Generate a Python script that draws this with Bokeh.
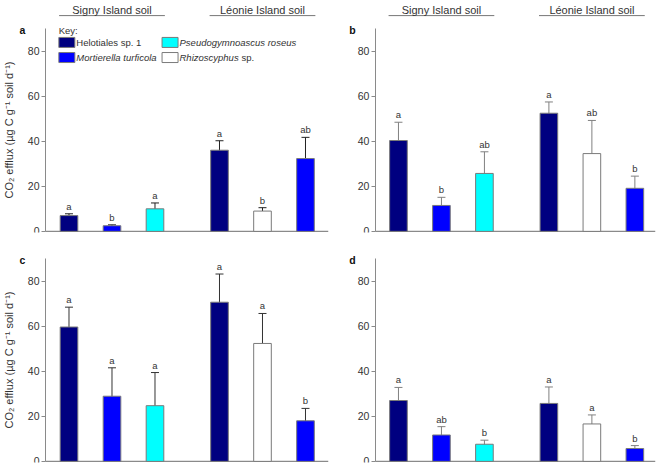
from bokeh.plotting import figure
from bokeh.models import ColumnDataSource, Whisker, TeeHead, Range1d
from bokeh.layouts import column, row
from bokeh.core.properties import value
from bokeh.embed import file_html
from bokeh.resources import INLINE

# ---------------- data ----------------
soils = ["Signy Island soil", "Léonie Island soil"]
species = ["Helotiales sp. 1", "Mortierella turficola", "Pseudogymnoascus roseus",
           "Helotiales sp. 1", "Rhizoscyphus sp.", "Mortierella turficola"]
soil_of_bar = [0, 0, 0, 1, 1, 1]
slot_in_group = [0, 1, 2, 0, 1, 2]

means_a = [7.0, 2.5, 10.0, 36.0, 9.0, 32.3]
err_a = [0.8, 0.4, 2.6, 4.2, 1.5, 9.4]
letters_a = ["a", "b", "a", "a", "b", "ab"]

means_b = [40.3, 11.5, 25.7, 52.4, 34.5, 19.1]
err_b = [8.1, 3.6, 9.6, 5.0, 14.7, 5.4]
letters_b = ["a", "b", "ab", "a", "ab", "b"]

means_c = [59.6, 28.9, 24.7, 70.6, 52.3, 18.0]
err_c = [8.8, 12.6, 14.7, 12.5, 13.3, 5.5]
letters_c = ["a", "a", "a", "a", "a", "b"]

means_d = [27.0, 11.7, 7.6, 25.7, 16.6, 5.7]
err_d = [5.8, 3.7, 1.8, 7.3, 4.0, 1.3]
letters_d = ["a", "ab", "b", "a", "a", "b"]

y_ticks = [0, 20, 40, 60, 80]
y_max = 90
y_label = "CO\u2082 efflux (\u00b5g C g\u207b\u00b9 soil d\u207b\u00b9)"

# ---------------- styles ----------------
colors = {"Helotiales sp. 1": "#000080", "Mortierella turficola": "#0000FF",
          "Pseudogymnoascus roseus": "#00FFFF", "Rhizoscyphus sp.": "#FFFFFF"}
FONT = value("Liberation Sans")
AXIS_C = "#8a8a8a"
TXT_C = "#333333"
GROUP_GAP = 3.5
positions = [s * GROUP_GAP + k for s, k in zip(soil_of_bar, slot_in_group)]


def make_panel(tag, means, errs, letters, left, top, err_color):
    height = 237 if top else 229
    x0, x1, axis_x = (-1.593, 6.035, -0.5465) if left else (-1.581, 5.98, -0.535)
    p = figure(width=330, height=height, output_backend="svg", toolbar_location=None,
               x_axis_location=None, y_axis_location="left",
               min_border_left=0, min_border_right=2 if left else 5,
               min_border_top=0, min_border_bottom=5 if top else 4)
    p.x_range = Range1d(x0, x1)
    p.y_range = Range1d(-0.5, 102.4 if top else 99.3)
    p.outline_line_color = None
    p.xgrid.visible = False
    p.ygrid.visible = False
    p.background_fill_color = "white"
    p.border_fill_color = "white"

    ax = p.yaxis[0]
    ax.fixed_location = axis_x
    ax.ticker = y_ticks
    ax.bounds = (0, y_max)
    ax.axis_line_color = AXIS_C
    ax.major_tick_line_color = AXIS_C
    ax.major_tick_out = 4
    ax.major_tick_in = 0
    ax.minor_tick_line_color = None
    ax.major_label_text_font = "Liberation Sans"
    ax.major_label_text_font_size = "10.5px"
    ax.major_label_text_color = TXT_C
    ax.major_label_standoff = 2
    if left:
        ax.axis_label = y_label
        ax.axis_label_text_font = "Liberation Sans"
        ax.axis_label_text_font_size = "11px"
        ax.axis_label_text_font_style = "normal"
        ax.axis_label_text_color = TXT_C
        ax.axis_label_standoff = 10

    # baseline (x axis line) from the y axis to the right end
    p.segment(x0=[axis_x], x1=[x1], y0=[0], y1=[0], line_color=AXIS_C, line_width=1.2)

    src = ColumnDataSource(dict(
        x=positions, top=means, err=errs, letter=letters,
        upper=[m + e for m, e in zip(means, errs)],
        lower=[m - e for m, e in zip(means, errs)],
        color=[colors[s] for s in species]))
    p.vbar(x="x", top="top", bottom=0, width=0.41, source=src, fill_color="color",
           line_color="#7a7a7a", line_width=1)
    p.add_layout(Whisker(base="x", upper="upper", lower="lower", source=src,
                         line_color=err_color, line_width=1,
                         upper_head=TeeHead(size=8, line_color=err_color, line_width=1),
                         lower_head=TeeHead(size=8, line_color=err_color, line_width=1)))
    p.text(x="x", y="upper", text="letter", source=src, text_font=FONT,
           text_font_size="9.5px", text_color=TXT_C, text_align="center",
           text_baseline="bottom", y_offset=-2)

    if top:
        for g, name in enumerate(soils):
            xs = [x for x, s in zip(positions, soil_of_bar) if s == g]
            p.segment(x0=[min(xs) - 0.23], x1=[max(xs) + 0.23], y0=[95.7], y1=[95.7],
                      line_color="#777777", line_width=1)
            p.text(x=[(min(xs) + max(xs)) / 2], y=[98.0], text=[name], text_font=FONT,
                   text_font_size="11px", text_color=TXT_C, text_align="center",
                   text_baseline="alphabetic")

    # panel letter
    p.text(x=[axis_x - 0.535], y=[89.1], text=[tag], text_font=FONT, text_font_size="10.5px",
           text_font_style="bold", text_color="#111111", text_align="center",
           text_baseline="middle")
    return p


pa = make_panel("a", means_a, err_a, letters_a, True, True, "#222222")
pb = make_panel("b", means_b, err_b, letters_b, False, True, "#808080")
pc = make_panel("c", means_c, err_c, letters_c, True, False, "#333333")
pd = make_panel("d", means_d, err_d, letters_d, False, False, "#808080")

# ---------------- key (legend) in panel a ----------------
key_species = ["Helotiales sp. 1", "Mortierella turficola", "Pseudogymnoascus roseus", "Rhizoscyphus sp."]
key_x = [-0.05, -0.05, 2.35, 2.35]
key_y = [83.8, 77.1, 83.8, 77.1]
pa.text(x=[-0.24], y=[89.1], text=["Key:"], text_font=FONT, text_font_size="9.5px",
        text_color=TXT_C, text_align="left", text_baseline="middle")
pa.rect(x=key_x, y=key_y, width=16, height=10, width_units="screen", height_units="screen",
        fill_color=[colors[s] for s in key_species], line_color="#7a7a7a")
key_text = ["Helotiales sp. 1", "Mortierella turficola", "Pseudogymnoascus roseus", "Rhizoscyphus"]
key_style = ["normal", "italic", "italic", "italic"]
for kx, ky, t, st in zip(key_x, key_y, key_text, key_style):
    pa.text(x=[kx + 0.22], y=[ky], text=[t], text_font=FONT, text_font_size="9.5px",
            text_font_style=st, text_color=TXT_C, text_align="left", text_baseline="middle")
pa.text(x=[key_x[3] + 0.22], y=[key_y[3]], text=["sp."], x_offset=62, text_font=FONT,
        text_font_size="9.5px", text_color=TXT_C, text_align="left", text_baseline="middle")

layout = column(row(pa, pb), row(pc, pd))
open("out.html", "w").write(file_html(layout, INLINE))
